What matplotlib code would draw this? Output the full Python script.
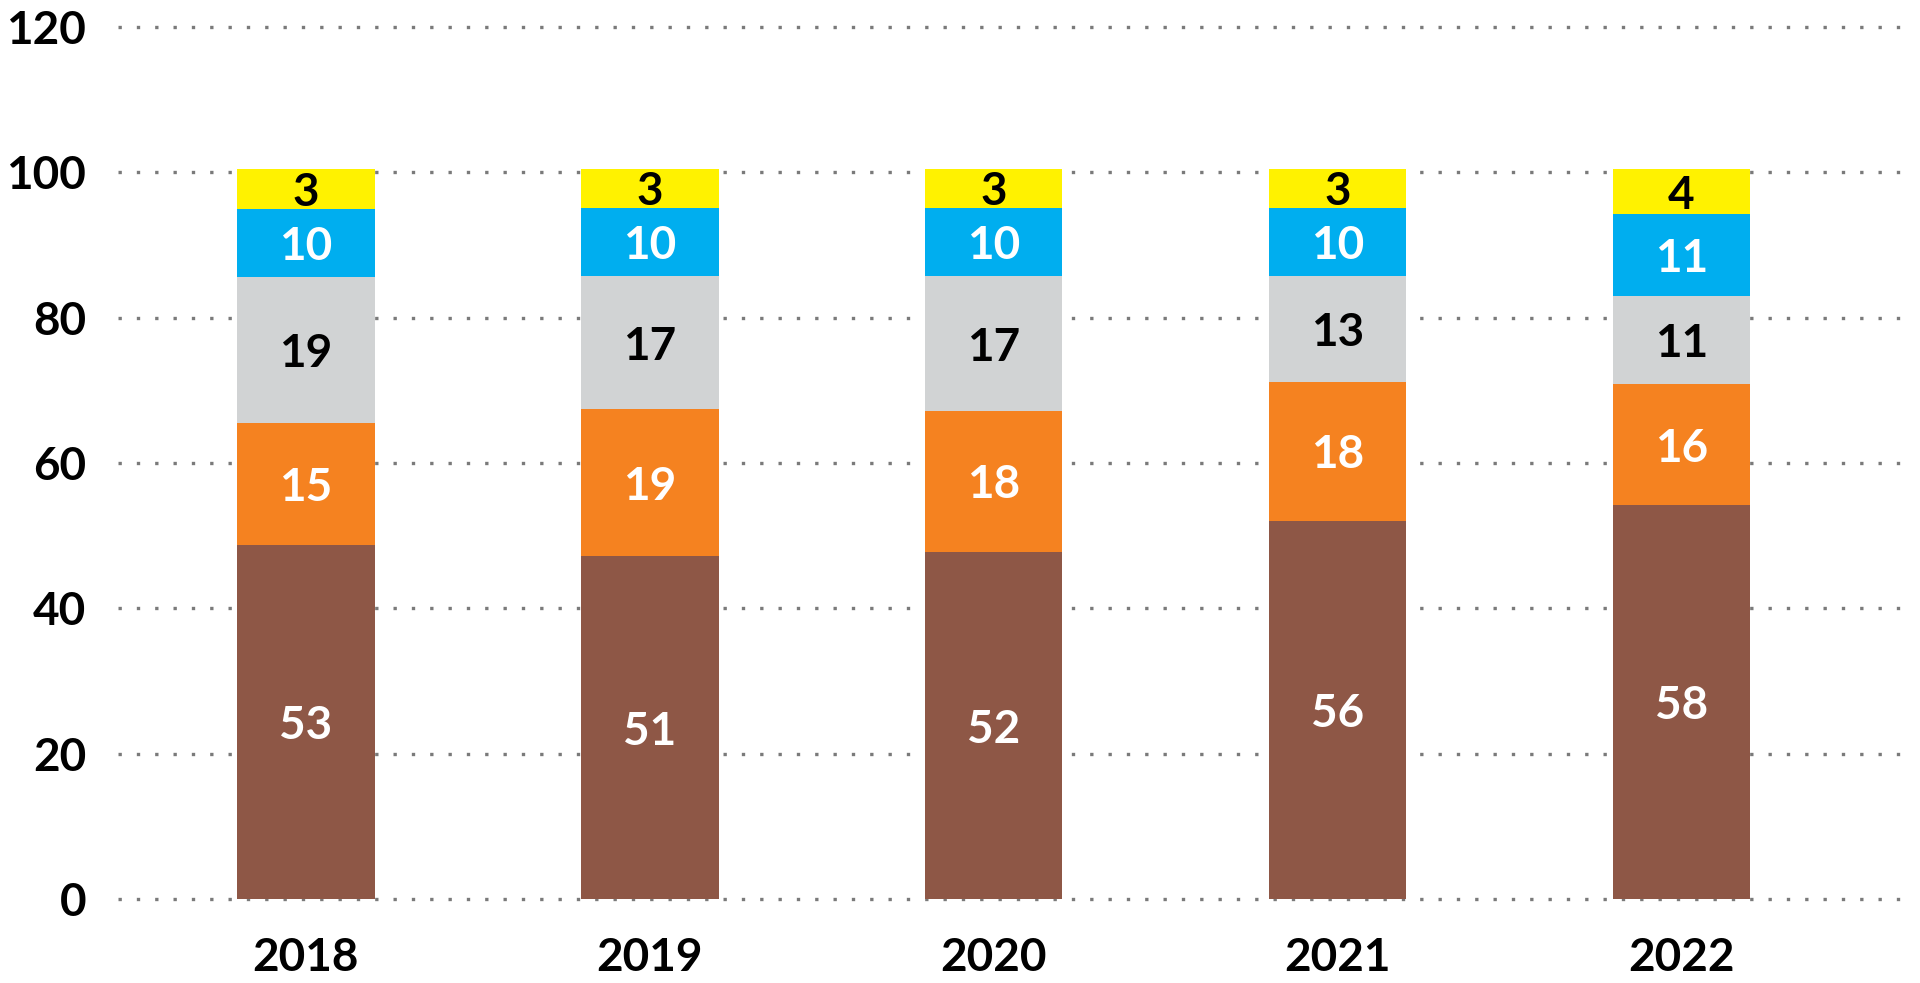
import numpy as np
import matplotlib.pyplot as plt

years = ['2018', '2019', '2020', '2021', '2022']

# segment heights as drawn in the picture (bottom to top)
brown = [48.8, 47.2, 47.8, 52.1, 54.2]
orange = [16.7, 20.2, 19.4, 19.1, 16.7]
gray = [20.1, 18.3, 18.5, 14.5, 12.1]
blue = [9.4, 9.4, 9.4, 9.4, 11.2]
yellow = [5.4, 5.4, 5.4, 5.4, 6.2]

# printed labels
brown_lbl = [53, 51, 52, 56, 58]
orange_lbl = [15, 19, 18, 18, 16]
gray_lbl = [19, 17, 17, 13, 11]
blue_lbl = [10, 10, 10, 10, 11]
yellow_lbl = [3, 3, 3, 3, 4]

series = [
    (brown, brown_lbl, '#8E5746', 'white'),
    (orange, orange_lbl, '#F58220', 'white'),
    (gray, gray_lbl, '#D1D3D4', 'black'),
    (blue, blue_lbl, '#00AEEF', 'white'),
    (yellow, yellow_lbl, '#FFF200', 'black'),
]

plt.rcParams['font.family'] = ['Lato', 'DejaVu Sans']

fig = plt.figure(figsize=(19.2, 9.83), dpi=100)
ax = fig.add_axes([0.0615, 0.0704, 0.9307, 0.917])

x = np.arange(len(years))
bottom = np.zeros(len(years))
for vals, lbls, col, tcol in series:
    vals = np.array(vals)
    ax.bar(x, vals, width=0.40, bottom=bottom, color=col, zorder=3)
    for xi, b, v, l in zip(x, bottom, vals, lbls):
        ax.text(xi, b + v / 2, str(l), ha='center', va='center_baseline',
                color=tcol, fontsize=33, fontweight='bold', zorder=4)
    bottom = bottom + vals

ax.set_xlim(-0.546, 4.65)
ax.set_ylim(-2, 122)
ax.set_yticks([0, 20, 40, 60, 80, 100, 120])
ax.set_xticks(x)
ax.set_xticklabels(years)
ax.tick_params(axis='both', length=0, labelsize=33, colors='black')
ax.tick_params(axis='y', pad=23)
ax.tick_params(axis='x', pad=17)
for t in ax.get_xticklabels() + ax.get_yticklabels():
    t.set_fontweight('bold')

for y in [0, 20, 40, 60, 80, 100, 120]:
    ax.axhline(y, color='#7a7a7a', lw=2.4, linestyle=(0, (1, 4.5)), zorder=1)

for s in ax.spines.values():
    s.set_visible(False)

fig.savefig('out.png', dpi=100)
